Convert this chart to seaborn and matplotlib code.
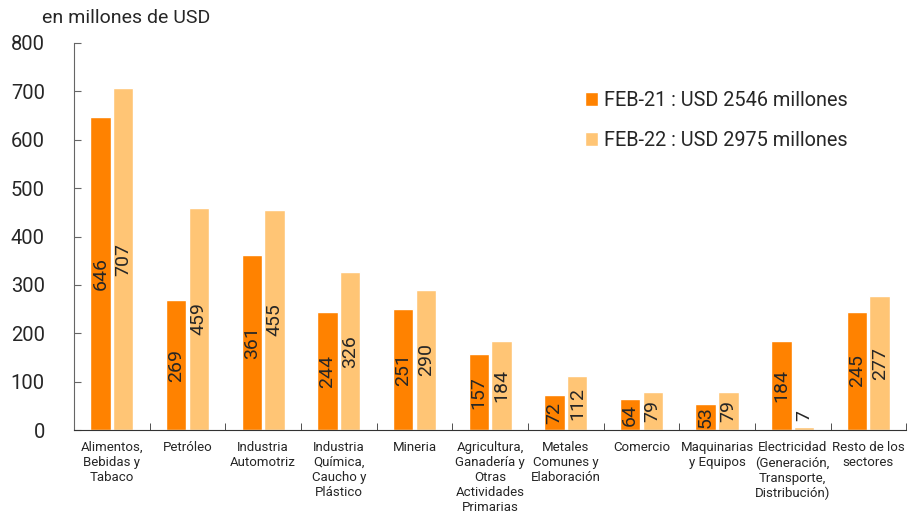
import pandas as pd
import numpy as np
import matplotlib.pyplot as plt
import seaborn as sns

# datos
sectores = ["Alimentos,\nBebidas y\nTabaco", "Petróleo", "Industria\nAutomotriz",
            "Industria\nQuímica,\nCaucho y\nPlástico", "Mineria",
            "Agricultura,\nGanadería y\nOtras\nActividades\nPrimarias",
            "Metales\nComunes y\nElaboración", "Comercio", "Maquinarias\ny Equipos",
            "Electricidad\n(Generación,\nTransporte,\nDistribución)", "Resto de los\nsectores"]
feb21 = [646, 269, 361, 244, 251, 157, 72, 64, 53, 184, 245]
feb22 = [707, 459, 455, 326, 290, 184, 112, 79, 79, 7, 277]
series = ["FEB-21 : USD 2546 millones", "FEB-22 : USD 2975 millones"]
colores = ["#FF8200", "#FFC575"]

df = pd.DataFrame({
    "sector": sectores * 2,
    "valor": feb21 + feb22,
    "serie": [series[0]] * len(sectores) + [series[1]] * len(sectores),
})

sns.set_style("white")
plt.rcParams["font.family"] = ["Roboto", "DejaVu Sans"]

fig = plt.figure(figsize=(9.08, 5.17), dpi=100)
ax = fig.add_axes([0.0815, 0.168, 0.9165, 0.749])

sns.barplot(data=df, x="sector", y="valor", hue="serie", palette=colores,
            width=0.6, gap=0.1, saturation=1, ax=ax)

# etiquetas de valor
for cont in ax.containers:
    vals = [b.get_height() for b in cont]
    dentro = [f"{v:.0f}" if v >= 30 else "" for v in vals]
    fuera = [f"{v:.0f}" if v < 30 else "" for v in vals]
    ax.bar_label(cont, labels=dentro, label_type="center", rotation=90, fontsize=14)
    ax.bar_label(cont, labels=fuera, label_type="edge", rotation=90, fontsize=14, padding=4)

ax.set_ylim(0, 800)
ax.set_yticks(range(0, 801, 100))
ax.set_xlim(-0.5, len(sectores) - 0.5)
ax.set_xlabel("")
ax.set_ylabel("")
ax.tick_params(axis="y", labelsize=14.5, length=5, direction="in", color="#666666",
               left=True, pad=21)
ax.tick_params(axis="x", which="major", length=0, labelsize=9.5, pad=8)
ax.set_xticks(np.arange(-0.5, len(sectores), 1), minor=True)
ax.tick_params(axis="x", which="minor", length=5, direction="in", color="#333333", bottom=True)

for s in ["top", "right"]:
    ax.spines[s].set_visible(False)
ax.spines["left"].set_color("#666666")
ax.spines["bottom"].set_color("#333333")

fig.text(0.046, 0.955, "en millones de USD", fontsize=14)

ax.legend(loc="upper left", bbox_to_anchor=(0.592, 0.922), frameon=False, fontsize=14.3,
          handlelength=0.7, handleheight=0.7, handletextpad=0.3, labelspacing=1.05)

fig.savefig("out.png", dpi=100)
